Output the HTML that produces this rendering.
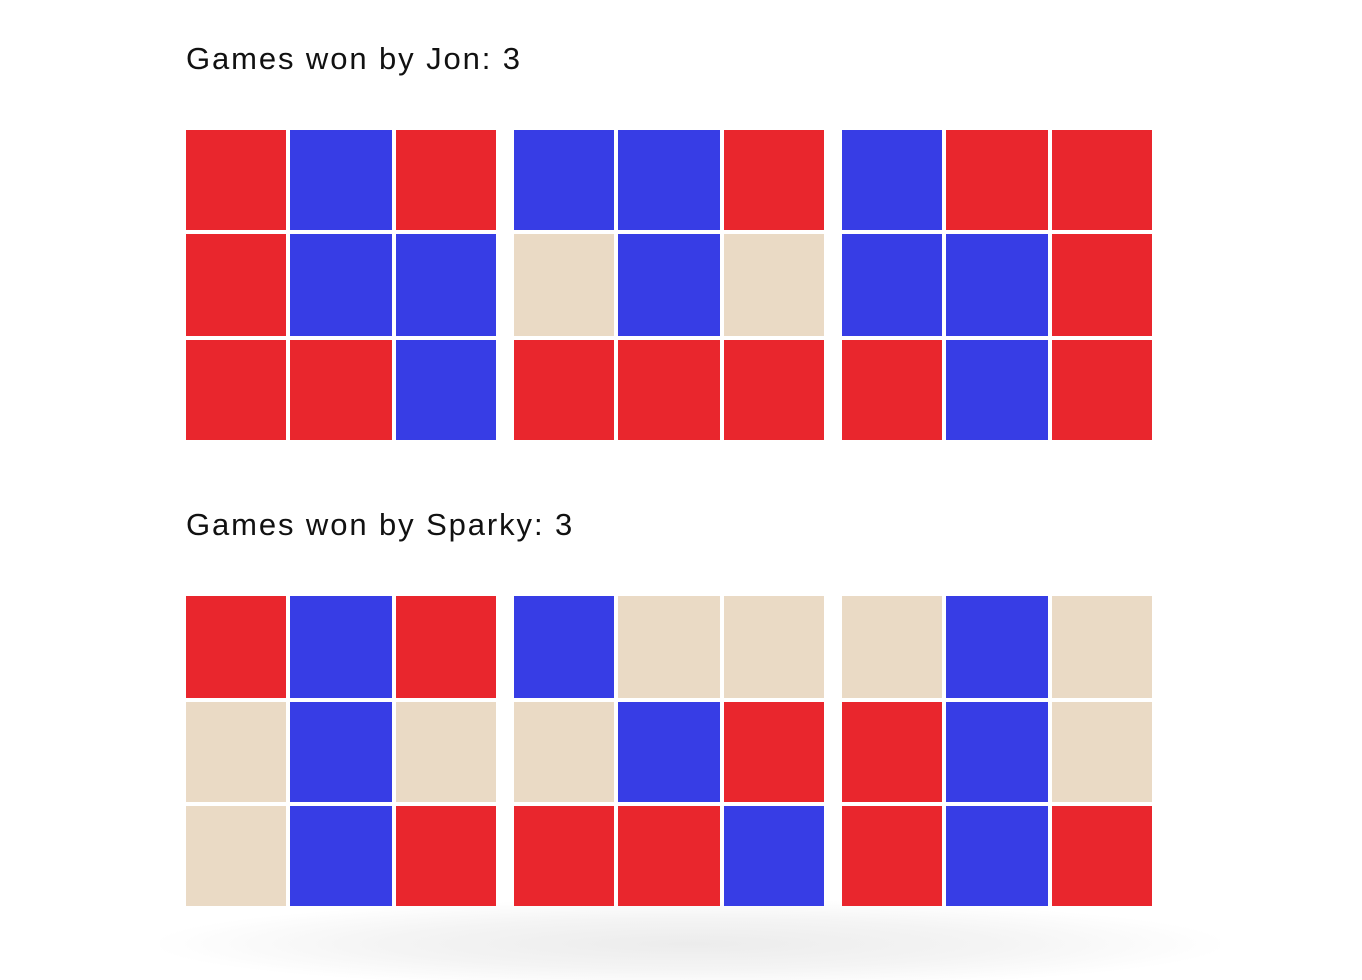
<!DOCTYPE html>
<html><head><meta charset="utf-8"><style>
body{margin:0;width:1362px;height:936px;background:#fff;overflow:hidden;position:relative;font-family:"Liberation Sans",sans-serif}
.title{position:absolute;left:186px;font-size:31px;color:#111;letter-spacing:1.9px}
.cell{position:absolute}
.shadow{position:absolute;left:160px;top:900px;width:1060px;height:80px;background:radial-gradient(ellipse at 50% 55%,#ececec 0%,#f4f4f4 40%,rgba(255,255,255,0) 72%)}
</style></head><body>
<div class="shadow"></div>
<div class="title" style="top:41px">Games won by Jon: 3</div>
<div class="title" style="top:507px">Games won by Sparky: 3</div>
<div id="root"></div>
<script>
const jonBoards=["RBRRBBRRB","BBREBERRR","BRRBBRRBR"];
const sparkyBoards=["RBREBEEBR","BEEEBRRRB","EBERBERBR"];
const colors={R:"#e9262d",B:"#373de5",E:"#eadac5"};
const colX=[0,104,210];const colW=[100,102,100];
const boardX=[186,514,842];
const root=document.getElementById('root');
function draw(boards,top,who,rowY,rowH){
  boards.forEach((b,bi)=>{
    for(let i=0;i<9;i++){
      const r=Math.floor(i/3),c=i%3;
      const d=document.createElement('div');
      d.className='cell';
      
      
      d.style.left=(boardX[bi]+colX[c])+'px';
      d.style.top=(top+rowY[r])+'px';
      d.style.width=colW[c]+'px';
      d.style.height=rowH[r]+'px';
      d.style.background=colors[b[i]];
      root.appendChild(d);
    }
  });
}
draw(jonBoards,130,'jon',[0,104,210],[100,102,100]);
draw(sparkyBoards,596,'sparky',[0,106,210],[102,100,100]);
</script>
</body></html>
